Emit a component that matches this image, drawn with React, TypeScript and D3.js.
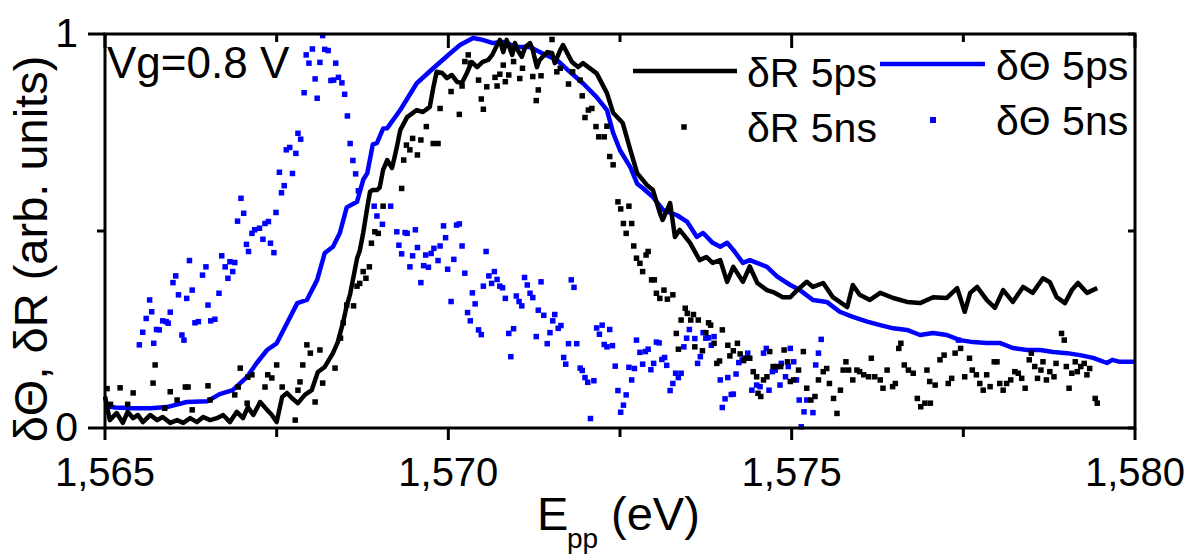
import React from 'react'
import * as d3 from 'd3'

type Pt = [number, number]

// δR 5ps (black line)
const dR5ps: Pt[] = [
  [1.56500,0.080],[1.56507,0.020],[1.56517,0.038],[1.56526,0.013],[1.56533,0.041],[1.56541,0.025],[1.56548,0.033],[1.56555,0.015],
  [1.56566,0.033],[1.56576,0.020],[1.56584,0.028],[1.56595,0.013],[1.56605,0.020],[1.56614,0.013],[1.56624,0.025],[1.56634,0.015],
  [1.56643,0.028],[1.56653,0.020],[1.56663,0.025],[1.56672,0.033],[1.56682,0.015],[1.56692,0.041],[1.56701,0.025],[1.56708,0.053],
  [1.56716,0.033],[1.56726,0.066],[1.56736,0.046],[1.56743,0.033],[1.56750,0.015],[1.56758,0.079],[1.56765,0.089],[1.56772,0.076],
  [1.56781,0.063],[1.56791,0.084],[1.56801,0.096],[1.56810,0.142],[1.56820,0.155],[1.56832,0.190],[1.56839,0.218],[1.56847,0.270],
  [1.56852,0.310],[1.56857,0.340],[1.56861,0.376],[1.56867,0.430],[1.56871,0.450],[1.56876,0.495],[1.56882,0.560],[1.56886,0.600],
  [1.56890,0.604],[1.56896,0.604],[1.56900,0.610],[1.56905,0.655],[1.56911,0.680],[1.56918,0.660],[1.56922,0.690],[1.56925,0.713],
  [1.56930,0.756],[1.56940,0.789],[1.56954,0.807],[1.56963,0.802],[1.56973,0.815],[1.56978,0.863],[1.56983,0.904],[1.56991,0.901],
  [1.56998,0.888],[1.57005,0.896],[1.57013,0.878],[1.57020,0.876],[1.57027,0.901],[1.57034,0.929],[1.57042,0.916],[1.57050,0.929],
  [1.57058,0.934],[1.57064,0.947],[1.57071,0.972],[1.57075,0.985],[1.57080,0.954],[1.57085,0.985],[1.57093,0.947],[1.57097,0.977],
  [1.57101,0.959],[1.57107,0.942],[1.57112,0.967],[1.57119,0.977],[1.57123,0.959],[1.57129,0.916],[1.57133,0.934],[1.57144,0.954],
  [1.57151,0.952],[1.57155,0.926],[1.57163,0.959],[1.57167,0.972],[1.57173,0.952],[1.57180,0.929],[1.57189,0.916],
  [1.57196,0.926],[1.57216,0.900],[1.57231,0.850],[1.57240,0.800],[1.57254,0.774],[1.57265,0.706],[1.57275,0.647],[1.57289,0.617],
  [1.57298,0.604],[1.57308,0.546],[1.57312,0.528],[1.57323,0.571],[1.57330,0.485],[1.57337,0.503],[1.57352,0.470],[1.57366,0.426],
  [1.57376,0.434],[1.57385,0.419],[1.57396,0.426],[1.57406,0.371],[1.57415,0.409],[1.57429,0.371],[1.57439,0.410],[1.57450,0.368],
  [1.57464,0.350],[1.57473,0.345],[1.57487,0.332],[1.57498,0.332],[1.57508,0.350],[1.57522,0.371],[1.57531,0.358],[1.57546,0.368],
  [1.57560,0.332],[1.57570,0.320],[1.57581,0.307],[1.57589,0.363],[1.57599,0.338],[1.57614,0.325],[1.57629,0.343],[1.57648,0.330],
  [1.57668,0.320],[1.57687,0.317],[1.57706,0.332],[1.57726,0.330],[1.57741,0.355],[1.57752,0.295],[1.57760,0.343],[1.57770,0.358],
  [1.57784,0.325],[1.57796,0.305],[1.57808,0.350],[1.57822,0.320],[1.57837,0.358],[1.57851,0.343],[1.57866,0.380],[1.57876,0.370],
  [1.57886,0.332],[1.57898,0.317],[1.57908,0.350],[1.57917,0.368],[1.57930,0.343],[1.57945,0.355],
]

// δΘ 5ps (blue line)
const dTheta5ps: Pt[] = [
  [1.56500,0.056],[1.56515,0.052],[1.56541,0.050],[1.56566,0.050],[1.56590,0.053],[1.56619,0.066],[1.56649,0.068],[1.56667,0.086],
  [1.56686,0.096],[1.56707,0.130],[1.56721,0.165],[1.56736,0.198],[1.56750,0.215],[1.56765,0.266],[1.56780,0.317],[1.56794,0.325],
  [1.56809,0.376],[1.56820,0.444],[1.56832,0.460],[1.56842,0.495],[1.56852,0.560],[1.56867,0.574],[1.56876,0.630],[1.56882,0.647],
  [1.56890,0.720],[1.56896,0.723],[1.56905,0.760],[1.56911,0.761],[1.56930,0.807],[1.56954,0.875],[1.56978,0.913],[1.57002,0.950],
  [1.57017,0.972],[1.57036,0.990],[1.57050,0.985],[1.57065,0.977],[1.57080,0.980],[1.57100,0.967],[1.57119,0.967],[1.57138,0.950],
  [1.57158,0.934],[1.57177,0.904],[1.57196,0.875],[1.57216,0.840],[1.57231,0.807],[1.57240,0.749],[1.57250,0.705],[1.57265,0.662],
  [1.57275,0.620],[1.57283,0.609],[1.57298,0.586],[1.57313,0.553],[1.57333,0.540],[1.57348,0.523],[1.57362,0.485],[1.57371,0.495],
  [1.57385,0.470],[1.57396,0.460],[1.57406,0.470],[1.57415,0.452],[1.57429,0.419],[1.57439,0.426],[1.57464,0.409],[1.57479,0.384],
  [1.57498,0.363],[1.57512,0.350],[1.57531,0.325],[1.57551,0.320],[1.57570,0.295],[1.57589,0.282],[1.57610,0.270],[1.57629,0.261],
  [1.57648,0.253],[1.57668,0.249],[1.57687,0.236],[1.57706,0.241],[1.57726,0.236],[1.57745,0.223],[1.57764,0.218],[1.57784,0.216],
  [1.57803,0.216],[1.57822,0.203],[1.57843,0.198],[1.57862,0.198],[1.57881,0.193],[1.57901,0.190],[1.57920,0.185],[1.57939,0.178],
  [1.57959,0.165],[1.57967,0.173],[1.57978,0.168],[1.58000,0.168],
]

// δR 5ns (black squares)
const dR5ns: Pt[] = [
  [1.56503,0.100],[1.56508,0.060],[1.56522,0.102],[1.56533,0.060],[1.56541,0.089],[1.56570,0.114],[1.56573,0.160],[1.56587,0.050],
  [1.56595,0.092],[1.56605,0.071],[1.56617,0.104],[1.56621,0.104],[1.56627,0.046],[1.56650,0.107],[1.56653,0.071],[1.56689,0.084],
  [1.56694,0.104],[1.56697,0.152],[1.56707,0.063],[1.56708,0.129],[1.56714,0.135],[1.56733,0.104],[1.56737,0.135],[1.56743,0.127],
  [1.56750,0.160],[1.56758,0.104],[1.56777,0.020],[1.56781,0.096],[1.56784,0.117],[1.56788,0.160],[1.56794,0.211],[1.56799,0.190],
  [1.56806,0.066],[1.56813,0.198],[1.56817,0.114],[1.56835,0.152],[1.56843,0.228],[1.56847,0.267],[1.56852,0.312],
  [1.56862,0.310],[1.56867,0.360],[1.56871,0.367],[1.56876,0.397],[1.56880,0.380],[1.56885,0.409],[1.56888,0.469],[1.56893,0.498],
  [1.56898,0.494],[1.56905,0.563],[1.56932,0.608],[1.56935,0.680],[1.56939,0.718],[1.56944,0.706],[1.56948,0.735],[1.56955,0.693],
  [1.56960,0.731],[1.56968,0.765],[1.56978,0.722],[1.56985,0.722],[1.56988,0.811],[1.57004,0.854],[1.57016,0.796],[1.57020,0.868],
  [1.57024,0.930],[1.57029,0.947],[1.57032,0.926],[1.57044,0.883],[1.57048,0.835],[1.57051,0.809],[1.57056,0.866],[1.57068,0.890],
  [1.57071,0.868],[1.57075,0.898],[1.57080,0.921],[1.57083,0.879],[1.57088,0.896],[1.57095,0.930],[1.57104,0.887],[1.57108,0.913],
  [1.57123,0.892],[1.57128,0.831],[1.57131,0.858],[1.57135,0.894],[1.57151,0.986],[1.57158,0.904],[1.57163,0.913],[1.57175,0.873],
  [1.57181,0.904],[1.57192,0.883],[1.57195,0.843],[1.57199,0.788],[1.57204,0.807],[1.57209,0.811],[1.57215,0.765],[1.57219,0.739],
  [1.57227,0.739],[1.57231,0.766],[1.57235,0.689],[1.57240,0.668],[1.57247,0.574],[1.57251,0.556],[1.57255,0.519],[1.57259,0.494],
  [1.57263,0.563],[1.57267,0.519],[1.57270,0.462],[1.57274,0.431],[1.57279,0.418],[1.57283,0.397],[1.57288,0.439],[1.57291,0.448],
  [1.57296,0.376],[1.57300,0.376],[1.57303,0.342],[1.57308,0.329],[1.57314,0.350],[1.57319,0.327],[1.57327,0.338],[1.57332,0.240],
  [1.57335,0.200],[1.57339,0.274],[1.57345,0.304],[1.57348,0.291],[1.57353,0.274],[1.57357,0.288],[1.57359,0.206],[1.57364,0.274],
  [1.57370,0.196],[1.57375,0.242],[1.57379,0.267],[1.57382,0.261],[1.57387,0.215],[1.57391,0.164],[1.57395,0.170],[1.57399,0.249],
  [1.57407,0.210],[1.57410,0.183],[1.57415,0.196],[1.57421,0.215],[1.57425,0.188],[1.57430,0.171],[1.57434,0.177],
  [1.57439,0.177],[1.57444,0.143],[1.57449,0.130],[1.57451,0.088],[1.57455,0.080],[1.57459,0.122],[1.57464,0.130],[1.57468,0.194],
  [1.57473,0.156],[1.57479,0.156],[1.57484,0.156],[1.57489,0.198],[1.57494,0.168],[1.57498,0.118],[1.57503,0.122],[1.57510,0.147],
  [1.57517,0.194],[1.57522,0.101],[1.57528,0.071],[1.57534,0.080],[1.57539,0.122],[1.57546,0.143],[1.57551,0.151],[1.57555,0.113],
  [1.57561,0.075],[1.57566,0.037],[1.57571,0.096],[1.57575,0.147],[1.57579,0.168],[1.57583,0.147],[1.57589,0.122],[1.57595,0.147],
  [1.57599,0.143],[1.57605,0.135],[1.57612,0.130],[1.57616,0.177],[1.57621,0.130],[1.57629,0.122],[1.57633,0.101],[1.57639,0.147],
  [1.57647,0.105],[1.57651,0.113],[1.57656,0.202],[1.57659,0.215],[1.57664,0.160],[1.57670,0.147],[1.57677,0.139],[1.57683,0.075],
  [1.57688,0.054],[1.57694,0.063],[1.57697,0.147],[1.57701,0.118],[1.57702,0.063],[1.57709,0.109],[1.57716,0.173],[1.57722,0.185],
  [1.57728,0.113],[1.57733,0.126],[1.57738,0.190],[1.57746,0.202],[1.57752,0.130],[1.57759,0.177],[1.57763,0.147],[1.57769,0.135],
  [1.57774,0.113],[1.57779,0.096],[1.57784,0.135],[1.57789,0.105],[1.57795,0.168],[1.57799,0.168],[1.57803,0.113],[1.57808,0.096],
  [1.57813,0.113],[1.57819,0.122],[1.57825,0.143],[1.57830,0.139],[1.57835,0.126],[1.57840,0.101],[1.57846,0.173],[1.57849,0.190],
  [1.57854,0.156],[1.57858,0.126],[1.57863,0.147],[1.57866,0.168],[1.57871,0.122],[1.57876,0.143],[1.57882,0.130],[1.57885,0.164],
  [1.57893,0.240],[1.57897,0.223],[1.57900,0.156],[1.57904,0.101],[1.57908,0.139],[1.57913,0.168],[1.57916,0.143],[1.57921,0.156],
  [1.57926,0.164],[1.57930,0.135],[1.57934,0.151],[1.57942,0.075],[1.57945,0.063],
]

// δΘ 5ns (blue squares)
const dTheta5ns: Pt[] = [
  [1.56550,0.211],[1.56555,0.243],[1.56560,0.278],[1.56565,0.325],[1.56568,0.295],[1.56571,0.215],[1.56575,0.250],[1.56579,0.249],
  [1.56584,0.272],[1.56589,0.270],[1.56592,0.266],[1.56595,0.294],[1.56599,0.369],[1.56603,0.386],[1.56607,0.338],[1.56612,0.236],
  [1.56615,0.223],[1.56619,0.329],[1.56623,0.425],[1.56627,0.350],[1.56631,0.267],[1.56636,0.270],[1.56642,0.388],[1.56647,0.409],
  [1.56650,0.312],[1.56654,0.272],[1.56660,0.276],[1.56666,0.342],[1.56670,0.437],[1.56675,0.409],[1.56679,0.380],[1.56682,0.422],
  [1.56686,0.397],[1.56689,0.420],[1.56693,0.525],[1.56698,0.583],[1.56702,0.545],[1.56706,0.466],[1.56709,0.448],[1.56714,0.494],
  [1.56718,0.503],[1.56725,0.507],[1.56730,0.479],[1.56733,0.519],[1.56738,0.524],[1.56741,0.469],[1.56746,0.445],[1.56749,0.547],
  [1.56754,0.649],[1.56757,0.597],[1.56761,0.615],[1.56764,0.706],[1.56769,0.712],[1.56773,0.646],[1.56778,0.697],[1.56781,0.748],
  [1.56785,0.733],[1.56790,0.851],[1.56793,0.947],[1.56797,0.926],[1.56802,0.962],[1.56806,0.886],[1.56809,0.837],[1.56813,0.928],
  [1.56817,0.996],[1.56820,0.961],[1.56825,0.958],[1.56829,0.882],[1.56833,0.883],[1.56836,0.926],[1.56840,0.890],[1.56845,0.876],
  [1.56849,0.847],[1.56853,0.792],[1.56857,0.722],[1.56861,0.679],[1.56865,0.645],[1.56869,0.602],
  [1.56892,0.563],[1.56896,0.538],[1.56904,0.517],[1.56916,0.563],[1.56925,0.498],[1.56928,0.464],[1.56932,0.442],[1.56937,0.496],
  [1.56940,0.494],[1.56944,0.409],[1.56948,0.437],[1.56952,0.503],[1.56955,0.458],[1.56960,0.369],[1.56964,0.412],[1.56967,0.439],
  [1.56971,0.408],[1.56975,0.443],[1.56979,0.456],[1.56985,0.425],[1.56988,0.462],[1.56993,0.513],[1.56996,0.483],[1.56999,0.403],
  [1.57004,0.321],[1.57008,0.428],[1.57012,0.515],[1.57016,0.518],[1.57020,0.462],[1.57024,0.393],[1.57028,0.293],[1.57032,0.272],
  [1.57035,0.343],[1.57039,0.315],[1.57044,0.249],[1.57048,0.237],[1.57051,0.360],[1.57055,0.448],[1.57059,0.386],[1.57063,0.367],
  [1.57067,0.397],[1.57071,0.377],[1.57075,0.360],[1.57079,0.356],[1.57083,0.329],[1.57088,0.240],[1.57091,0.181],[1.57095,0.252],
  [1.57099,0.335],[1.57103,0.321],[1.57107,0.310],[1.57111,0.382],[1.57115,0.363],[1.57119,0.342],[1.57123,0.331],[1.57128,0.232],
  [1.57131,0.299],[1.57135,0.371],[1.57139,0.286],[1.57144,0.214],[1.57148,0.242],[1.57152,0.272],[1.57155,0.288],[1.57160,0.253],
  [1.57164,0.260],[1.57168,0.179],[1.57171,0.162],[1.57175,0.214],[1.57179,0.376],[1.57183,0.357],[1.57187,0.214],[1.57192,0.152],
  [1.57195,0.146],[1.57199,0.128],[1.57203,0.116],[1.57207,0.024],[1.57212,0.120],[1.57216,0.254],[1.57220,0.238],[1.57224,0.261],
  [1.57227,0.212],[1.57231,0.206],[1.57235,0.250],[1.57239,0.209],[1.57243,0.157],[1.57247,0.095],[1.57251,0.040],[1.57255,0.058],
  [1.57259,0.084],[1.57263,0.154],[1.57267,0.122],[1.57271,0.151],[1.57274,0.223],[1.57279,0.192],[1.57283,0.162],[1.57287,0.194],
  [1.57291,0.200],[1.57295,0.148],[1.57299,0.164],[1.57303,0.218],[1.57307,0.216],[1.57311,0.174],[1.57315,0.179],[1.57318,0.159],
  [1.57323,0.095],[1.57327,0.113],[1.57331,0.139],[1.57335,0.128],[1.57339,0.139],[1.57343,0.206],[1.57347,0.228],[1.57351,0.250],
  [1.57359,0.227],[1.57363,0.164],[1.57367,0.181],[1.57371,0.242],[1.57375,0.228],[1.57379,0.229],[1.57383,0.210],[1.57387,0.232],
  [1.57396,0.122],[1.57399,0.052],[1.57403,0.074],[1.57407,0.128],[1.57412,0.085],[1.57415,0.086],[1.57419,0.137],[1.57423,0.166],
  [1.57428,0.173],[1.57432,0.177],[1.57436,0.190],[1.57442,0.096],[1.57449,0.109],[1.57454,0.105],[1.57459,0.190],[1.57463,0.202],
  [1.57467,0.096],[1.57472,0.143],[1.57476,0.147],[1.57483,0.109],[1.57485,0.164],[1.57491,0.130],[1.57495,0.156],[1.57498,0.202],
  [1.57503,0.168],[1.57507,0.122],[1.57511,0.071],[1.57514,0.003],[1.57518,0.041],[1.57522,0.071],[1.57531,0.039],[1.57535,0.160],
  [1.57539,0.190],[1.57543,0.225],[1.57743,0.223],
]

const xTicks = [1.565, 1.5675, 1.57, 1.5725, 1.575, 1.5775, 1.58]
const xTickLabels = ['1,565', '', '1,570', '', '1,575', '', '1,580']
const yTicks = [0, 0.5, 1]
const yTickLabels = ['0', '', '1']

// plot frame in page pixels
const W = 1191, H = 559
const PL = 105, PR = 1135, PT = 34, PB = 428
const FONT = "'Liberation Sans', Arial, Helvetica, sans-serif"
const BLUE = '#0000ff'

export default function App() {
  const x = d3.scaleLinear().domain([1.565, 1.58]).range([PL, PR])
  const y = d3.scaleLinear().domain([0, 1]).range([PB, PT])
  const line = d3.line<Pt>().x(d => x(d[0])).y(d => y(d[1]))
  const sq = 5.5

  return (
    <svg width={W} height={H} fontFamily={FONT}
      style={{ position: 'absolute', left: 0, top: 0, background: '#fff' }}>
      {/* curves */}
      <path d={line(dTheta5ps) ?? ''} fill="none" stroke={BLUE} strokeWidth={4.5} strokeLinejoin="round" />
      <path d={line(dR5ps) ?? ''} fill="none" stroke="#000" strokeWidth={4.5} strokeLinejoin="round" />
      {dTheta5ns.map((d, i) => (
        <rect key={'b' + i} x={x(d[0]) - sq / 2} y={y(d[1]) - sq / 2} width={sq} height={sq} fill={BLUE} />
      ))}
      {dR5ns.map((d, i) => (
        <rect key={'k' + i} x={x(d[0]) - sq / 2} y={y(d[1]) - sq / 2} width={sq} height={sq} fill="#000" />
      ))}

      {/* frame */}
      <rect x={PL} y={PT} width={PR - PL} height={PB - PT} fill="none" stroke="#000" strokeWidth={3} />

      {/* x ticks: outward at bottom, inward at top */}
      {xTicks.map((t, i) => {
        const major = i % 2 === 0
        return (
          <g key={'xt' + i} stroke="#000" strokeWidth={3}>
            <line x1={x(t)} x2={x(t)} y1={PB} y2={PB + (major ? 12 : 9)} />
            <line x1={x(t)} x2={x(t)} y1={PT} y2={PT + (major ? 14 : 8)} />
          </g>
        )
      })}
      {xTicks.map((t, i) => xTickLabels[i] ? (
        <text key={'xl' + i} x={x(t)} y={486} fontSize={40} textAnchor="middle">{xTickLabels[i]}</text>
      ) : null)}

      {/* y ticks: outward at left, inward at right */}
      {yTicks.map((t, i) => {
        const major = yTickLabels[i] !== ''
        return (
          <g key={'yt' + i} stroke="#000" strokeWidth={3}>
            <line x1={PL - (major ? 17 : 8)} x2={PL} y1={y(t)} y2={y(t)} />
            <line x1={PR - 7} x2={PR} y1={y(t)} y2={y(t)} />
          </g>
        )
      })}
      {yTicks.map((t, i) => yTickLabels[i] ? (
        <text key={'yl' + i} x={78} y={y(t) + 13} fontSize={41} textAnchor="end">{yTickLabels[i]}</text>
      ) : null)}

      {/* axis titles */}
      <text transform="translate(47,249) rotate(-90)" fontSize={47} textAnchor="middle">
        δΘ, δR (arb. units)
      </text>
      <text x={537} y={530} fontSize={47}>E</text>
      <text x={567} y={548} fontSize={28}>pp</text>
      <text x={611} y={530} fontSize={47}>(eV)</text>

      {/* annotation */}
      <text x={107} y={78} fontSize={44}>Vg=0.8 V</text>

      {/* legend */}
      <line x1={633} x2={737} y1={71} y2={71} stroke="#000" strokeWidth={4.5} />
      <text x={747} y={87} fontSize={41}>δR 5ps</text>
      <line x1={880} x2={985} y1={64} y2={64} stroke={BLUE} strokeWidth={4.5} />
      <text x={996} y={80} fontSize={41}>δΘ 5ps</text>
      <rect x={684 - sq / 2} y={127 - sq / 2} width={sq} height={sq} fill="#000" />
      <text x={747} y={142} fontSize={41}>δR 5ns</text>
      <rect x={933 - 3} y={120 - 3} width={6} height={6} fill={BLUE} />
      <text x={996} y={135} fontSize={41}>δΘ 5ns</text>
    </svg>
  )
}
